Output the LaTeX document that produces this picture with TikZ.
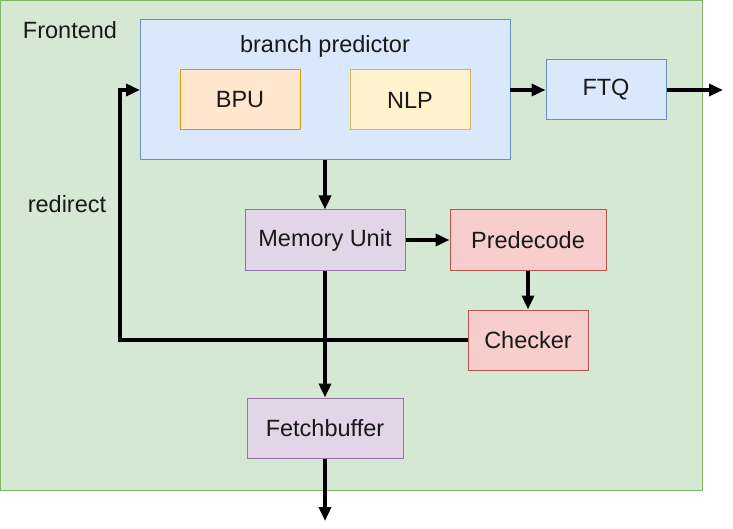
\documentclass[tikz,border=0pt]{standalone}
\usepackage{fontspec}
\setmainfont{Liberation Sans}
\usetikzlibrary{arrows.meta}
\definecolor{grfill}{HTML}{D5E8D4}\definecolor{grline}{HTML}{82B366}
\definecolor{blfill}{HTML}{DAE8FC}\definecolor{blline}{HTML}{6C8EBF}
\definecolor{orfill}{HTML}{FFE6CC}\definecolor{orline}{HTML}{D79B00}
\definecolor{yefill}{HTML}{FFF2CC}\definecolor{yeline}{HTML}{D6B656}
\definecolor{pufill}{HTML}{E1D5E7}\definecolor{puline}{HTML}{9673A6}
\definecolor{refill}{HTML}{F8CECC}\definecolor{reline}{HTML}{B85450}
\begin{document}
\begin{tikzpicture}[x=1pt,y=-1pt,
  every node/.style={font=\fontsize{23.5}{28}\selectfont, text=black!90},
  box/.style={draw, line width=1pt, minimum width=#1, inner sep=0pt},
  conn/.style={line width=3.5pt, -{Triangle[length=14pt,width=12pt]}}]
\useasboundingbox (0,0) rectangle (733,529);
\draw[fill=grfill, draw=grline, line width=1pt] (0.5,0.5) rectangle (702,490);
\node (fe) at (70,30) {Frontend};
\draw[fill=blfill, draw=blline, line width=1pt] (140,20) rectangle (510,160);
\coordinate (bpW) at (140,90);
\coordinate (bpE) at (510,90);
\coordinate (bpS) at (325,160);
\node (bp) at (325,46) {branch predictor};
\node[box=120pt, minimum height=60pt, fill=orfill, draw=orline] (bpu) at (240,100) {BPU};
\node[box=120pt, minimum height=60pt, fill=yefill, draw=yeline] (nlp) at (410,100) {NLP};
\node[box=120pt, minimum height=60pt, fill=blfill, draw=blline] (ftq) at (606,90) {FTQ};
\node[box=160pt, minimum height=60pt, fill=pufill, draw=puline] (mem) at (325,240) {Memory Unit};
\node[box=156pt, minimum height=60pt, fill=refill, draw=reline] (pre) at (528,240) {Predecode};
\node[box=120pt, minimum height=60pt, fill=refill, draw=reline] (chk) at (528,340) {Checker};
\node[box=156pt, minimum height=60pt, fill=pufill, draw=puline] (fb) at (325,428) {Fetchbuffer};
\node (redir) at (67,204) {redirect};
\coordinate (ftqOut) at (723,90);
\coordinate (fbOut) at (325,521);
\draw[conn] (bpE) -- (ftq.west);
\draw[conn] (ftq.east) -- (ftqOut);
\draw[conn] (bpS) -- (mem.north);
\draw[conn] (mem.east) -- (pre.west);
\draw[conn] (pre.south) -- (chk.north);
\draw[conn] (mem.south) -- (fb.north);
\draw[conn] (fb.south) -- (fbOut);
\draw[conn] (chk.west) -- (120,340) -- (120,90) -- (bpW);
\end{tikzpicture}
\end{document}
